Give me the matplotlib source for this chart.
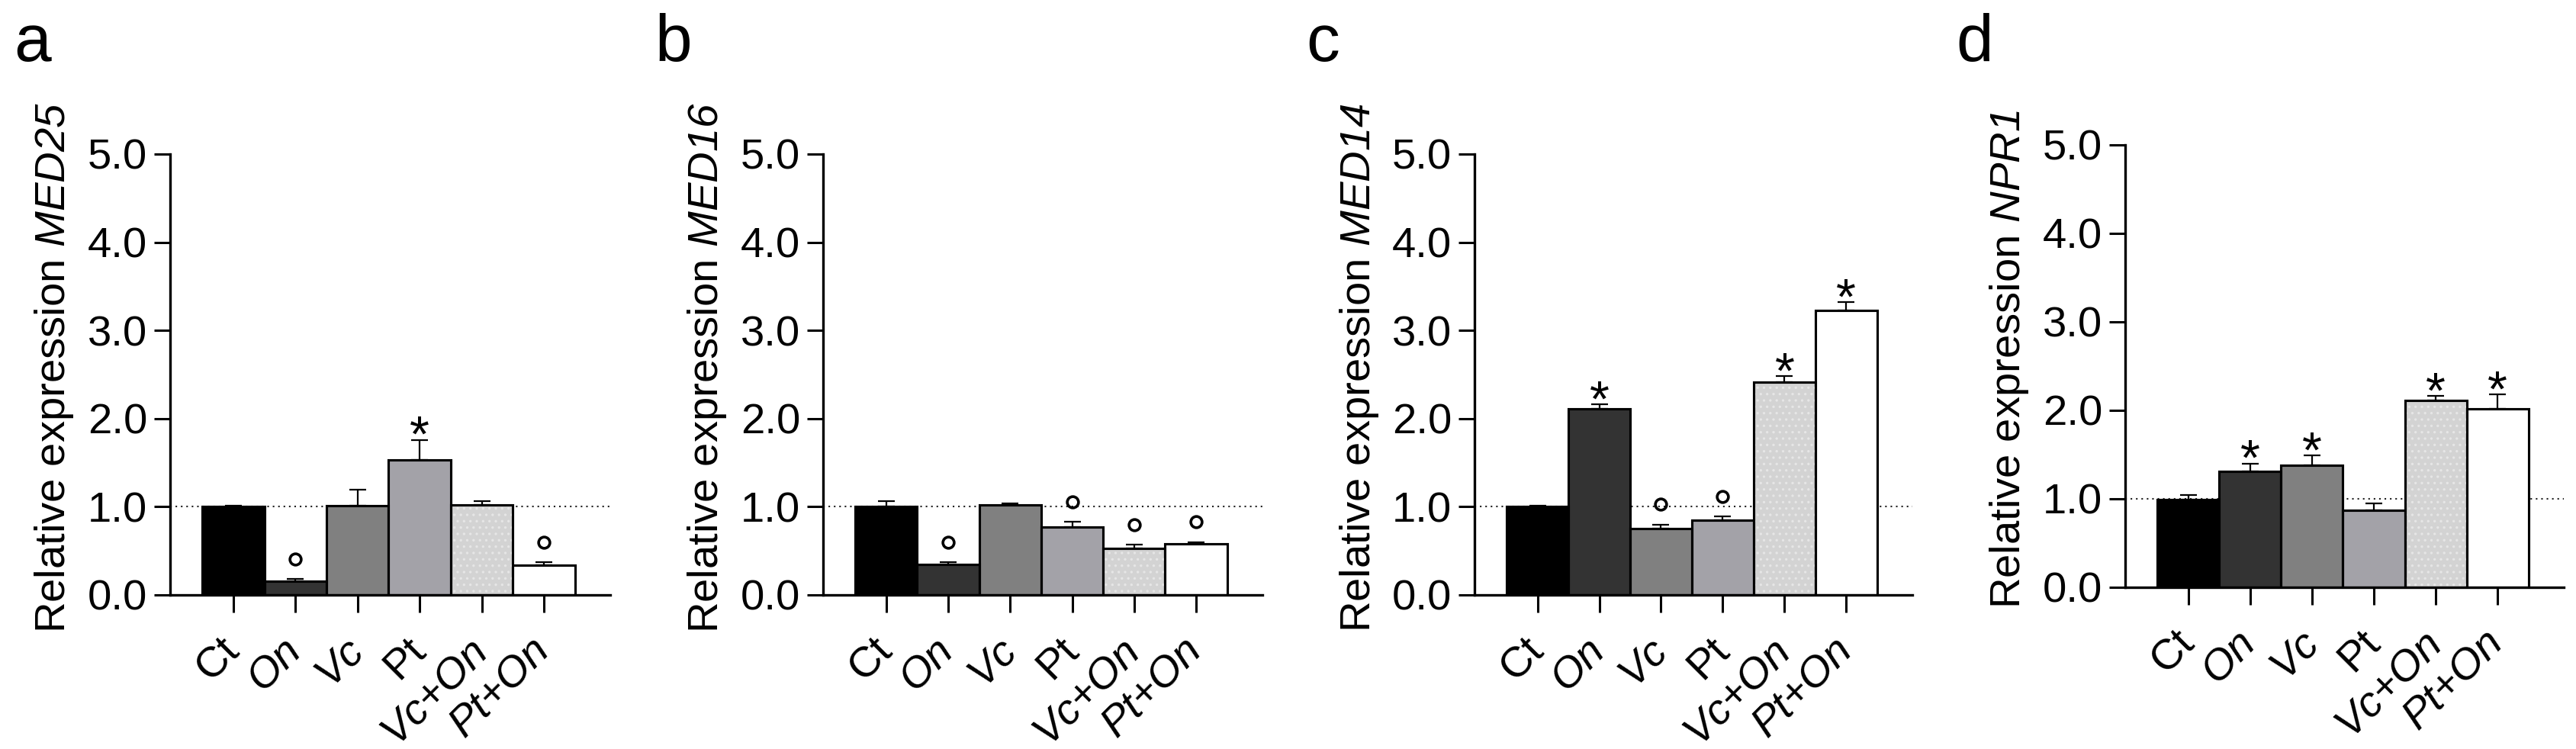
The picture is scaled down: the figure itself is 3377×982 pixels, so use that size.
import matplotlib
matplotlib.use('Agg')
import matplotlib.pyplot as plt
from matplotlib.transforms import offset_copy
import numpy as np

plt.rcParams['font.family'] = ['Liberation Sans', 'DejaVu Sans']
plt.rcParams['mathtext.fontset'] = 'custom'
plt.rcParams['mathtext.rm'] = 'Liberation Sans'
# bf slot used for the italic gene names, so digits come out italic too
plt.rcParams['mathtext.bf'] = 'Liberation Sans:italic'
plt.rcParams['hatch.linewidth'] = 1.2

# groups and their look
groups = ['Ct', 'On', 'Vc', 'Pt', 'Vc+On', 'Pt+On']
group_styles = ['normal', 'italic', 'italic', 'normal', 'italic', 'italic']
bar_colors = ['#000000', '#333333', '#808080', '#a3a2a8', '#d3d3d3', '#ffffff']

letters = ['a', 'b', 'c', 'd']
genes = ['MED25', 'MED16', 'MED14', 'NPR1']

# values (mean, upper error, significance mark)
med25_mean = [1.00, 0.16, 1.01, 1.53, 1.02, 0.34]
med25_err = [0.01, 0.02, 0.18, 0.23, 0.04, 0.03]
med25_sig = ['', 'o', '', '*', '', 'o']

med16_mean = [1.00, 0.35, 1.02, 0.77, 0.53, 0.58]
med16_err = [0.06, 0.02, 0.02, 0.06, 0.04, 0.02]
med16_sig = ['', 'o', '', 'o', 'o', 'o']

med14_mean = [1.00, 2.11, 0.75, 0.85, 2.41, 3.23]
med14_err = [0.01, 0.05, 0.05, 0.04, 0.07, 0.09]
med14_sig = ['', '*', 'o', 'o', '*', '*']

npr1_mean = [0.99, 1.31, 1.38, 0.87, 2.11, 2.02]
npr1_err = [0.05, 0.09, 0.11, 0.08, 0.05, 0.16]
npr1_sig = ['', '*', '*', '', '*', '*']

means = [med25_mean, med16_mean, med14_mean, npr1_mean]
errs = [med25_err, med16_err, med14_err, npr1_err]
sigs = [med25_sig, med16_sig, med14_sig, npr1_sig]

W, H = 3377, 982
fig = plt.figure(figsize=(W / 100, H / 100), dpi=100)

# axes boxes in pixels: left, top, width, height
boxes = [(223, 202, 577, 578), (1079, 202, 576, 578),
         (1933, 202, 574, 578), (2786, 190, 575, 580)]
letter_pos = [(18, 80), (858, 80), (1712, 80), (2564, 80)]

for k in range(4):
    l, t, w, h = boxes[k]
    ax = fig.add_axes([l / W, 1 - (t + h) / H, w / W, h / H])
    x = np.arange(len(groups))
    m = np.array(means[k])
    e = np.array(errs[k])

    ax.axhline(1.0, color='#222222', lw=1.5, ls=(0, (1, 2.4)), zorder=1)
    ax.bar(x, m, width=1.0, color=bar_colors, edgecolor='black', linewidth=2.2, zorder=2)
    ax.bar(x[4], m[4], width=1.0, facecolor='none', edgecolor='#e6e6e6',
           linewidth=0, hatch='..', zorder=2.5)
    ax.errorbar(x, m, yerr=[np.zeros(len(x)), e], fmt='none', ecolor='black',
                elinewidth=1.6, capsize=8, capthick=1.6, zorder=2.8)
    ax.bar(x, m, width=1.0, facecolor='none', edgecolor='black', linewidth=2.2, zorder=3)

    star_tr = offset_copy(ax.transData, fig=fig, x=0, y=-11, units='points')
    circ_tr = offset_copy(ax.transData, fig=fig, x=0, y=19, units='points')
    for xi, mi, ei, s in zip(x, m, e, sigs[k]):
        if s == '*':
            ax.text(xi, mi + ei, '*', transform=star_tr, ha='center', va='baseline',
                    fontsize=48, clip_on=False)
        elif s == 'o':
            ax.plot(xi, mi + ei, 'o', transform=circ_tr, ms=10.6, mew=2.6,
                    mfc='none', mec='black', clip_on=False)

    ax.set_xlim(-1.02, 6.07)
    ax.set_ylim(0, 5)
    ax.set_yticks([0, 1, 2, 3, 4, 5])
    ax.set_yticklabels(['0.0', '1.0', '2.0', '3.0', '4.0', '5.0'])
    ax.set_xticks(x)
    ax.set_xticklabels(groups, rotation=45, ha='right', va='center',
                       rotation_mode='anchor', fontsize=40.5)
    for lbl, st in zip(ax.get_xticklabels(), group_styles):
        lbl.set_style(st)
    ax.tick_params(axis='x', length=16.5, width=2.2, pad=30)
    ax.tick_params(axis='y', length=15, width=2.2, pad=6.5, labelsize=40.5)
    for side in ['top', 'right']:
        ax.spines[side].set_visible(False)
    for side in ['left', 'bottom']:
        ax.spines[side].set_linewidth(2.4)

    ax.set_ylabel('Relative expression $\\mathbf{' + genes[k] + '}$', fontsize=40.5)
    ax.yaxis.set_label_coords(-0.215, 0.515)

    lx, ly = letter_pos[k]
    fig.text(lx / W, 1 - ly / H, letters[k], fontsize=63, ha='left', va='baseline')

fig.savefig('out.png', dpi=100)
